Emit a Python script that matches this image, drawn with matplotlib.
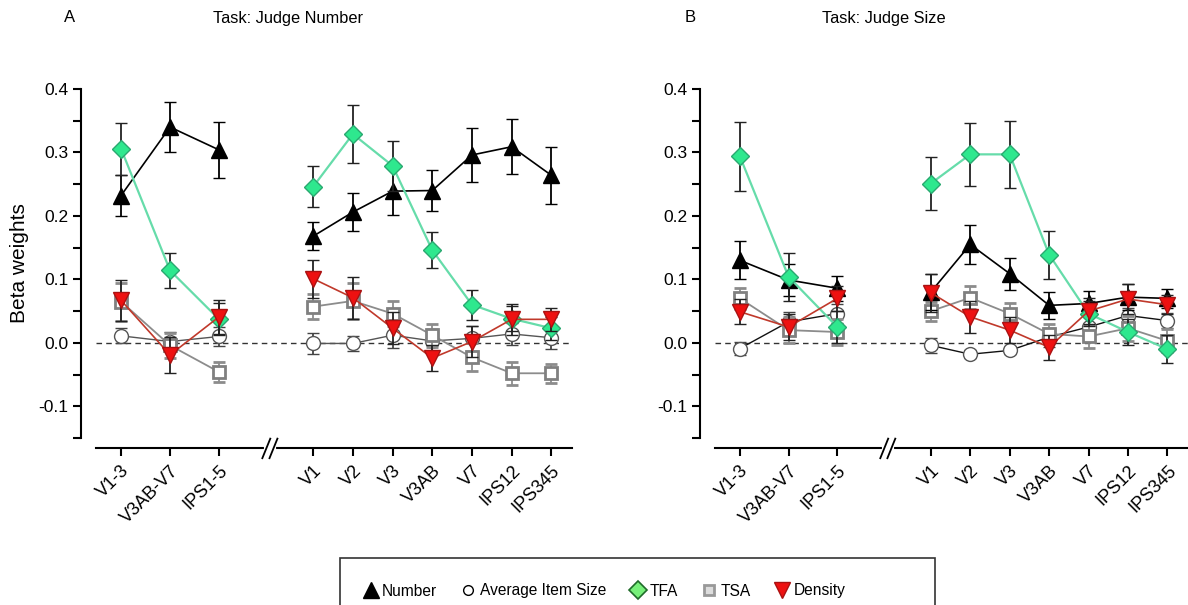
import matplotlib
matplotlib.use("Agg")
import matplotlib.pyplot as plt
from matplotlib.lines import Line2D
from matplotlib.patches import Rectangle
import numpy as np

plt.rcParams['font.family'] = ['Liberation Sans', 'DejaVu Sans']

# ---------------- data ----------------
left_labels = ["V1-3", "V3AB-V7", "IPS1-5"]
right_labels = ["V1", "V2", "V3", "V3AB", "V7", "IPS12", "IPS345"]
series_names = ["Number", "Average Item Size", "TFA", "TSA", "Density"]

# Panel A: Task: Judge Number  (left group, right group) values and SEMs
A_number_L = [0.232, 0.340, 0.304]
A_number_L_err = [0.032, 0.040, 0.044]
A_number_R = [0.168, 0.206, 0.239, 0.240, 0.296, 0.309, 0.264]
A_number_R_err = [0.022, 0.030, 0.037, 0.033, 0.043, 0.043, 0.045]

A_ais_L = [0.011, 0.002, 0.010]
A_ais_L_err = [0.012, 0.015, 0.015]
A_ais_R = [-0.001, -0.001, 0.012, 0.003, 0.007, 0.014, 0.008]
A_ais_R_err = [0.017, 0.012, 0.020, 0.018, 0.020, 0.018, 0.018]

A_tfa_L = [0.306, 0.114, 0.037]
A_tfa_L_err = [0.041, 0.028, 0.025]
A_tfa_R = [0.246, 0.329, 0.279, 0.146, 0.060, 0.038, 0.023]
A_tfa_R_err = [0.032, 0.046, 0.039, 0.028, 0.024, 0.020, 0.018]

A_tsa_L = [0.065, -0.004, -0.046]
A_tsa_L_err = [0.030, 0.020, 0.016]
A_tsa_R = [0.057, 0.066, 0.046, 0.012, -0.023, -0.048, -0.048]
A_tsa_R_err = [0.020, 0.028, 0.020, 0.018, 0.022, 0.018, 0.015]

A_den_L = [0.067, -0.019, 0.041]
A_den_L_err = [0.032, 0.028, 0.027]
A_den_R = [0.101, 0.071, 0.023, -0.024, 0.002, 0.037, 0.037]
A_den_R_err = [0.030, 0.033, 0.025, 0.020, 0.025, 0.024, 0.018]

# Panel B: Task: Judge Size
B_number_L = [0.130, 0.099, 0.086]
B_number_L_err = [0.030, 0.025, 0.020]
B_number_R = [0.080, 0.155, 0.109, 0.059, 0.062, 0.072, 0.070]
B_number_R_err = [0.029, 0.030, 0.025, 0.021, 0.020, 0.020, 0.015]

B_ais_L = [-0.009, 0.033, 0.046]
B_ais_L_err = [0.010, 0.015, 0.015]
B_ais_R = [-0.004, -0.018, -0.012, 0.009, 0.025, 0.043, 0.035]
B_ais_R_err = [0.012, 0.006, 0.006, 0.015, 0.015, 0.012, 0.012]

B_tfa_L = [0.294, 0.104, 0.025]
B_tfa_L_err = [0.054, 0.038, 0.025]
B_tfa_R = [0.251, 0.297, 0.297, 0.139, 0.046, 0.017, -0.010]
B_tfa_R_err = [0.042, 0.050, 0.053, 0.038, 0.020, 0.020, 0.022]

B_tsa_L = [0.070, 0.020, 0.017]
B_tsa_L_err = [0.017, 0.020, 0.020]
B_tsa_R = [0.050, 0.071, 0.046, 0.014, 0.010, 0.023, 0.003]
B_tsa_R_err = [0.015, 0.018, 0.017, 0.015, 0.018, 0.020, 0.018]

B_den_L = [0.049, 0.025, 0.070]
B_den_L_err = [0.020, 0.020, 0.020]
B_den_R = [0.079, 0.041, 0.020, -0.007, 0.050, 0.069, 0.060]
B_den_R_err = [0.030, 0.025, 0.020, 0.020, 0.020, 0.023, 0.015]

# ---------------- layout ----------------
W, H = 1188, 605
fig = plt.figure(figsize=(W / 100, H / 100), dpi=100)

left_step = 1.235
right_start = 4.84
xL = np.arange(len(left_labels)) * left_step
xR = right_start + np.arange(len(right_labels))
XLIM = (-0.63, 11.36)
BREAK_X = 3.75

styles = {
    "Number": dict(marker='^', ms=11, mfc='black', mec='black', color='black', lw=1.2,
                   ecolor='black'),
    "Average Item Size": dict(marker='o', ms=10, mfc='white', mec='#555555', color='#444444',
                              lw=1.0, ecolor='#444444'),
    "TFA": dict(marker='D', ms=9.5, mfc='#2ee88e', mec='#2aa870', color='#66dcaa', lw=1.6,
                ecolor='#222222'),
    "TSA": dict(marker='s', ms=8, mfc='white', mec='#808080', mew=2.0, color='#8c8c8c',
                lw=1.3, ecolor='#8c8c8c'),
    "Density": dict(marker='v', ms=11, mfc='#ee1111', mec='#aa1111', color='#c0392b', lw=1.2,
                    ecolor='#222222'),
}


def draw_panel(ax, data, ais_color):
    for s in ('top', 'right'):
        ax.spines[s].set_visible(False)
    ax.spines['left'].set_position(('outward', 11))
    ax.spines['bottom'].set_position(('outward', 7.5))
    ax.spines['left'].set_linewidth(1.5)
    ax.spines['bottom'].set_linewidth(1.5)

    order = ["Average Item Size", "TSA", "Number", "TFA", "Density"]
    for z, name in enumerate(order):
        st = dict(styles[name])
        if name == "Average Item Size":
            st['color'] = ais_color
        ec = st.pop('ecolor')
        mew = st.pop('mew', 1.0)
        (yl, el), (yr, er) = data[name]
        for xs, ys, es in ((xL, yl, el), (xR, yr, er)):
            ax.errorbar(xs, ys, yerr=es, ecolor=ec, elinewidth=1.3, capsize=4.5,
                        capthick=1.3, mew=mew, zorder=3 + z, **st)
    ax.axhline(0, color='#333333', lw=1.0, ls=(0, (4, 3)), zorder=1)
    ax.set_xlim(*XLIM)
    ax.set_ylim(-0.15, 0.40)
    ax.set_yticks([-0.1, 0.0, 0.1, 0.2, 0.3, 0.4])
    ax.set_yticks(np.arange(-0.15, 0.401, 0.05), minor=True)
    ax.set_yticklabels(["-0.1", "0.0", "0.1", "0.2", "0.3", "0.4"], fontsize=12.5)
    ax.set_xticks(np.concatenate([xL, xR]))
    ax.set_xticklabels(left_labels + right_labels, rotation=45, ha='right',
                       rotation_mode='anchor', fontsize=13)
    ax.tick_params(axis='y', which='major', direction='out', length=6, width=1.5, pad=3)
    ax.tick_params(axis='y', which='minor', direction='out', length=6, width=1.5)
    ax.tick_params(axis='x', which='major', direction='out', length=6, width=1.5, pad=4)
    # axis break marks on the bottom spine
    tr = ax.get_xaxis_transform()
    off = -7.5 / 72 * 100 / (ax.get_position().height * H)
    ax.plot([BREAK_X - 0.1, BREAK_X + 0.1], [off, off], transform=tr, color='white',
            lw=3, clip_on=False, zorder=9)
    for dx in (-0.09, 0.09):
        ax.plot([BREAK_X + dx - 0.1, BREAK_X + dx + 0.1], [off - 0.028, off + 0.028],
                transform=tr, color='black', lw=1.3, clip_on=False, zorder=10)


bottom = 1 - 438 / H
height = (438 - 89) / H
axA = fig.add_axes([96 / W, bottom, (572 - 96) / W, height])
axB = fig.add_axes([715 / W, bottom, (1188 - 715) / W, height])

dataA = {
    "Number": ((A_number_L, A_number_L_err), (A_number_R, A_number_R_err)),
    "Average Item Size": ((A_ais_L, A_ais_L_err), (A_ais_R, A_ais_R_err)),
    "TFA": ((A_tfa_L, A_tfa_L_err), (A_tfa_R, A_tfa_R_err)),
    "TSA": ((A_tsa_L, A_tsa_L_err), (A_tsa_R, A_tsa_R_err)),
    "Density": ((A_den_L, A_den_L_err), (A_den_R, A_den_R_err)),
}
dataB = {
    "Number": ((B_number_L, B_number_L_err), (B_number_R, B_number_R_err)),
    "Average Item Size": ((B_ais_L, B_ais_L_err), (B_ais_R, B_ais_R_err)),
    "TFA": ((B_tfa_L, B_tfa_L_err), (B_tfa_R, B_tfa_R_err)),
    "TSA": ((B_tsa_L, B_tsa_L_err), (B_tsa_R, B_tsa_R_err)),
    "Density": ((B_den_L, B_den_L_err), (B_den_R, B_den_R_err)),
}
draw_panel(axA, dataA, '#555555')
draw_panel(axB, dataB, '#111111')

axA.set_ylabel("Beta weights", fontsize=15, labelpad=7)

fig.text(70 / W, 1 - 18 / H, "A", fontsize=12, ha='center', va='center')
fig.text(288 / W, 1 - 18 / H, "Task: Judge Number", fontsize=11.8, ha='center', va='center')
fig.text(690 / W, 1 - 18 / H, "B", fontsize=12, ha='center', va='center')
fig.text(884 / W, 1 - 18 / H, "Task: Judge Size", fontsize=11.8, ha='center', va='center')

handles = [
    Line2D([], [], ls='none', marker='^', ms=11, mfc='black', mec='black'),
    Line2D([], [], ls='none', marker='o', ms=7, mfc='white', mec='black', mew=1.0),
    Line2D([], [], ls='none', marker='D', ms=9, mfc='#77f07a', mec='#1f6b2a', mew=1.2),
    Line2D([], [], ls='none', marker='s', ms=7, mfc='#dddddd', mec='#999999', mew=2),
    Line2D([], [], ls='none', marker='v', ms=12, mfc='#ee1111', mec='#aa1111'),
]
leg = fig.legend(handles, series_names, loc='center', bbox_to_anchor=(604 / W, 1 - 591 / H),
                 ncol=5, fontsize=11.2, frameon=False,
                 handlelength=1.0, handletextpad=0.25, columnspacing=1.5, borderpad=0.3,
                 borderaxespad=0)
fig.patches.append(Rectangle((340 / W, 1 - 640 / H), (935 - 340) / W, (640 - 558) / H,
                             transform=fig.transFigure, fill=False, edgecolor='#333333',
                             lw=1.2, figure=fig))

fig.savefig("out.png", dpi=100)
